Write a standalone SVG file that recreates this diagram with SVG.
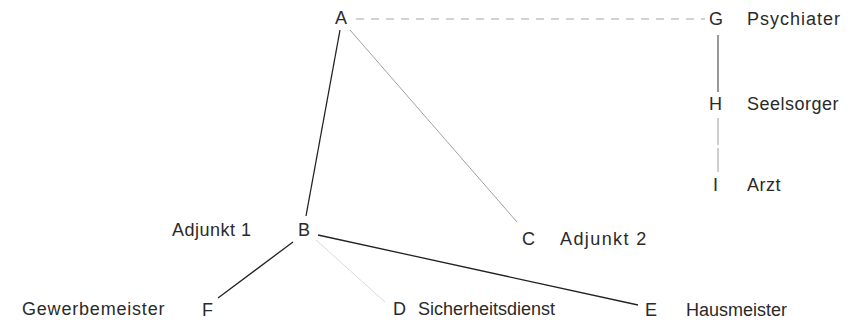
<svg xmlns="http://www.w3.org/2000/svg" width="855" height="327" viewBox="0 0 855 327">
<style>
text{font-family:"Liberation Sans",Arial,sans-serif;font-size:18px;fill:#2a2a2a;letter-spacing:0.5px}
.l{stroke:#222;stroke-width:1.3;fill:none}
.t{stroke:#444;stroke-width:1.1;fill:none}
.f{stroke:#a0a0a0;stroke-width:1;fill:none}
.vf{stroke:#dadada;stroke-width:1;fill:none}
.d{stroke:#a5a5a5;stroke-width:1;stroke-dasharray:8 7;fill:none}
</style>
<rect width="855" height="327" fill="#fff"/>
<g id="connectors">
<line class="d" x1="356" y1="19" x2="705" y2="19"/>
<line class="l" x1="340" y1="30" x2="306" y2="216"/>
<line class="f" x1="350" y1="30" x2="517" y2="222"/>
<line class="t" x1="718" y1="35" x2="718" y2="92"/>
<line class="f" x1="718" y1="118" x2="718" y2="145"/>
<line class="f" x1="718" y1="148" x2="718" y2="172"/>
<line class="l" x1="293" y1="242" x2="218" y2="298"/>
<line class="l" x1="318" y1="235" x2="638" y2="305"/>
<line class="vf" x1="316" y1="240" x2="385" y2="302"/>
</g>
<g id="A"><text x="335" y="24">A</text></g>
<g id="G"><text x="709" y="25">G</text><text x="747" y="25" style="letter-spacing:1px">Psychiater</text></g>
<g id="H"><text x="709" y="110">H</text><text x="747" y="110">Seelsorger</text></g>
<g id="I"><text x="713" y="191">I</text><text x="747" y="191">Arzt</text></g>
<g id="B"><text x="172" y="236">Adjunkt 1</text><text x="298" y="236">B</text></g>
<g id="C"><text x="522" y="245">C</text><text x="560" y="245" style="letter-spacing:1.4px">Adjunkt 2</text></g>
<g id="F"><text x="22" y="315" style="letter-spacing:0.8px">Gewerbemeister</text><text x="202" y="316">F</text></g>
<g id="D"><text x="393" y="315">D</text><text x="418" y="315" style="letter-spacing:0px">Sicherheitsdienst</text></g>
<g id="E"><text x="645" y="316">E</text><text x="686" y="316" style="letter-spacing:0px">Hausmeister</text></g>
</svg>
